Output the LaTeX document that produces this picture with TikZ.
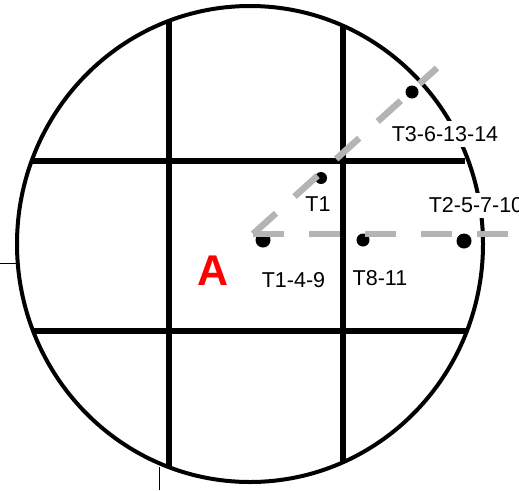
\documentclass[tikz,border=0pt]{standalone}
\usepackage{fontspec}
\setmainfont{Liberation Sans}
\usepackage{tikz}
\definecolor{gris}{RGB}{180,180,180}

\begin{document}
\begin{tikzpicture}[x=1pt, y=-1pt,
    point/.style={circle, fill=black, inner sep=0pt, minimum size=13pt},
    etiq/.style={fill=white, inner sep=5pt, font=\fontsize{21.5}{24}\selectfont},
    trait/.style={gris, line width=6.5pt, dash pattern=on 31pt off 25pt}]
    \useasboundingbox (0,0) rectangle (519,490);
    % Traits fins
    \draw[line width=1pt] (0,263) -- (16,263);
    \draw[line width=1pt] (159,467) -- (159,490);
    % Quadrillage
    \begin{scope}
        \clip (250,244) ellipse [x radius=233, y radius=238];
        \draw[line width=6pt] (169,0) -- (169,490);
        \draw[line width=6pt] (343,0) -- (343,490);
        \draw[line width=6pt] (0,161) -- (465,161);
        \draw[line width=6pt] (0,331) -- (519,331);
    \end{scope}
    % Cercle
    \draw[line width=4pt] (250,244) ellipse [x radius=233, y radius=238];
    % Points
    \node[point, minimum width=15pt, minimum height=12pt] (p149) at (263,240) {};
    \node[point, minimum size=12pt] (p1) at (321,178) {};
    \node[point] (p811) at (363,240) {};
    \node[point] (p3) at (412,92) {};
    \node[point, minimum width=15pt, minimum height=12pt] (p2) at (464,241) {};
    % Lignes en tirets
    \coordinate (o) at (253,234);
    \coordinate (fin1) at (437,68);
    \coordinate (fin2) at (519,234);
    \draw[trait] (o) -- (fin1);
    \draw[trait] (o) -- (fin2);
    % Etiquettes
    \node[etiq] (t3) at (445,134) {T3-6-13-14};
    \node[etiq] (t2) at (476,205.5) {T2-5-7-10};
    \node[etiq, fill=none] (t1) at (318,204) {T1};
    \node[etiq, fill=none] (t149) at (293.5,280) {T1-4-9};
    \node[etiq, fill=none] (t811) at (380,278.5) {T8-11};
    \node[text=red, font=\bfseries\fontsize{43}{43}\selectfont] (a) at (213.5,270.5) {A};
\end{tikzpicture}
\end{document}
